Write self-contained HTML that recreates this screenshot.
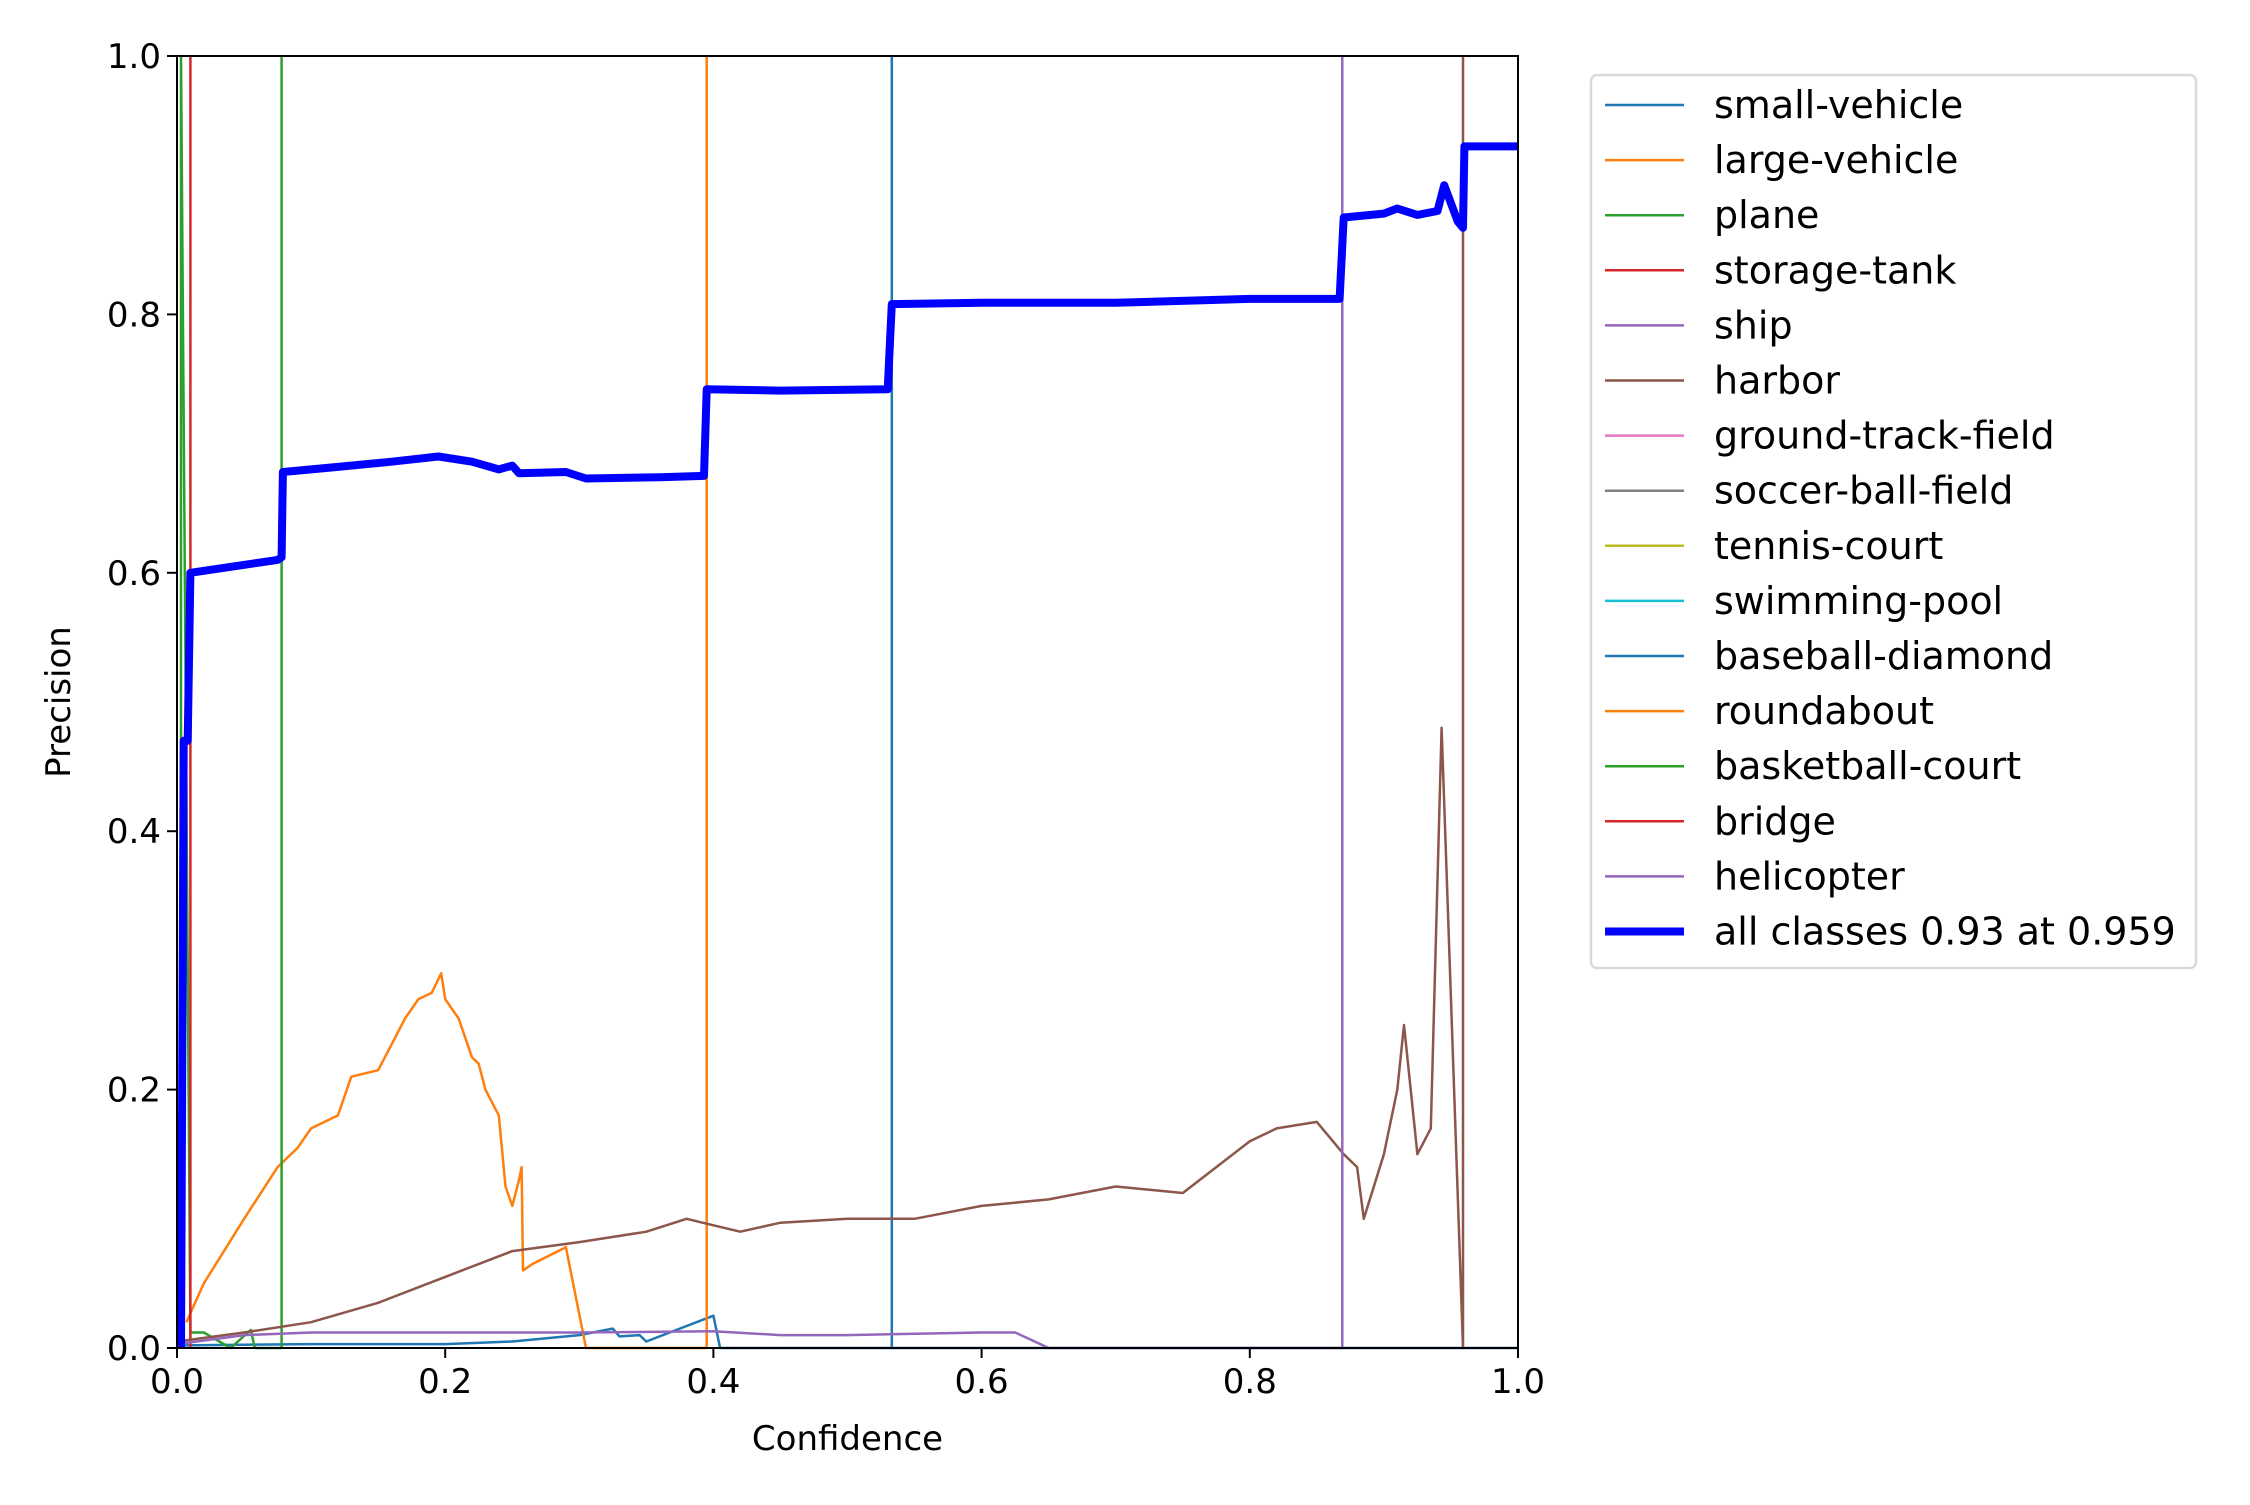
<!DOCTYPE html>
<html><head><meta charset="utf-8"><style>
html,body{margin:0;padding:0;background:#fff;}
svg text{font-family:"DejaVu Sans","Liberation Sans",sans-serif;}
</style></head><body>
<svg id="chart" width="2250" height="1500" viewBox="0 0 2250 1500" xmlns="http://www.w3.org/2000/svg">
<rect width="2250" height="1500" fill="#fff"/>
<g id="plot"></g>
<g id="axes"></g>
<g id="legend"></g>
</svg>
<script>
const xTicks=[0,0.2,0.4,0.6,0.8,1.0];
const yTicks=[0,0.2,0.4,0.6,0.8,1.0];
const tickLabels=["0.0","0.2","0.4","0.6","0.8","1.0"];
const names=["small-vehicle","large-vehicle","plane","storage-tank","ship","harbor","ground-track-field","soccer-ball-field","tennis-court","swimming-pool","baseball-diamond","roundabout","basketball-court","bridge","helicopter","all classes 0.93 at 0.959"];
const colors=["#1f77b4","#ff7f0e","#2ca02c","#d62728","#9467bd","#8c564b","#e377c2","#7f7f7f","#bcbd22","#17becf","#1f77b4","#ff7f0e","#2ca02c","#d62728","#9467bd","#0000ff"];
const smallVehX=[0.005,0.1,0.2,0.25,0.3,0.325,0.33,0.345,0.35,0.4,0.405,1.0];
const smallVehY=[0.002,0.003,0.003,0.005,0.01,0.015,0.009,0.01,0.005,0.025,0,0];
const largeVehX=[0.007,0.02,0.05,0.075,0.09,0.1,0.12,0.13,0.15,0.16,0.17,0.18,0.19,0.197,0.2,0.21,0.22,0.225,0.23,0.24,0.245,0.25,0.255,0.257,0.258,0.265,0.29,0.305,0.395,0.395];
const largeVehY=[0.02,0.05,0.1,0.14,0.155,0.17,0.18,0.21,0.215,0.235,0.255,0.27,0.275,0.29,0.27,0.255,0.225,0.22,0.2,0.18,0.125,0.11,0.13,0.14,0.06,0.065,0.078,0,0,1];
const planeX=[0.003,0.003,0.01,0.02,0.04,0.055,0.058,0.078,0.078];
const planeY=[0,1,0.012,0.012,0,0.014,0,0,1];
const tankX=[0.01,0.01];
const tankY=[0,1];
const harborX=[0,0.05,0.1,0.15,0.2,0.25,0.3,0.35,0.38,0.4,0.42,0.45,0.5,0.55,0.6,0.65,0.7,0.75,0.8,0.82,0.85,0.87,0.88,0.885,0.9,0.91,0.915,0.925,0.935,0.943,0.959,0.959];
const harborY=[0.005,0.012,0.02,0.035,0.055,0.075,0.082,0.09,0.1,0.095,0.09,0.097,0.1,0.1,0.11,0.115,0.125,0.12,0.16,0.17,0.175,0.15,0.14,0.1,0.15,0.2,0.25,0.15,0.17,0.48,0,1];
const heliX=[0,0.05,0.1,0.3,0.4,0.45,0.5,0.6,0.625,0.65,0.869,0.869];
const heliY=[0.003,0.01,0.012,0.012,0.013,0.01,0.01,0.012,0.012,0,0,1];
const baseballX=[0.533,0.533];
const baseballY=[0,1];
const allX=[0.003,0.005,0.008,0.01,0.075,0.078,0.079,0.12,0.16,0.195,0.22,0.24,0.25,0.255,0.29,0.305,0.36,0.393,0.395,0.45,0.53,0.533,0.6,0.7,0.8,0.867,0.87,0.9,0.91,0.925,0.94,0.945,0.955,0.959,0.96,1.0];
const allY=[0,0.47,0.47,0.6,0.61,0.612,0.678,0.682,0.686,0.69,0.686,0.68,0.683,0.677,0.678,0.673,0.674,0.675,0.742,0.741,0.742,0.808,0.809,0.809,0.812,0.812,0.875,0.878,0.882,0.877,0.88,0.9,0.872,0.867,0.93,0.93];

const L=177,R=1518,T=56,B=1348;
const sx=v=>L+v*(R-L), sy=v=>B-v*(B-T);
const NS="http://www.w3.org/2000/svg";
function mk(tag,parent){const e=document.createElementNS(NS,tag);parent.appendChild(e);return e;}
const plot=document.getElementById('plot');
function series(xs,ys,color,w,name){
  const p=mk('polyline',plot);
  
  
  p.setAttribute('points',xs.map((x,i)=>sx(x).toFixed(1)+','+sy(ys[i]).toFixed(1)).join(' '));
  p.setAttribute('fill','none');p.setAttribute('stroke',color);p.setAttribute('stroke-width',w);p.setAttribute('stroke-linejoin','round');
}
series(smallVehX,smallVehY,colors[0],2.5,'small-vehicle-line');
series(baseballX,baseballY,colors[10],2.5,'baseball-diamond-line');
series(largeVehX,largeVehY,colors[1],2.5,'large-vehicle-line');
series(planeX,planeY,colors[2],2.5,'plane-line');
series(tankX,tankY,colors[3],2.5,'storage-tank-line');
series(harborX,harborY,colors[5],2.5,'harbor-line');
series(heliX,heliY,colors[4],2.5,'helicopter-line');
series(allX,allY,colors[15],8,'all-classes-line');

const axes=document.getElementById('axes');
const frame=mk('rect',axes);


frame.setAttribute('x',L);frame.setAttribute('y',T);frame.setAttribute('width',R-L);frame.setAttribute('height',B-T);
frame.setAttribute('fill','none');frame.setAttribute('stroke','#000');frame.setAttribute('stroke-width',2);
xTicks.forEach((v,i)=>{
  const t=mk('line',axes);
  
  
  t.setAttribute('x1',sx(v));t.setAttribute('x2',sx(v));t.setAttribute('y1',B);t.setAttribute('y2',B+10);t.setAttribute('stroke','#000');t.setAttribute('stroke-width',2);
  const s=mk('text',axes);
  
  
  s.setAttribute('x',sx(v));s.setAttribute('y',B+45);s.setAttribute('text-anchor','middle');s.setAttribute('font-size','34');
  s.textContent=tickLabels[i];
});
yTicks.forEach((v,i)=>{
  const t=mk('line',axes);
  
  
  t.setAttribute('x1',L-10);t.setAttribute('x2',L);t.setAttribute('y1',sy(v));t.setAttribute('y2',sy(v));t.setAttribute('stroke','#000');t.setAttribute('stroke-width',2);
  const s=mk('text',axes);
  
  
  s.setAttribute('x',L-16);s.setAttribute('y',sy(v)+12);s.setAttribute('text-anchor','end');s.setAttribute('font-size','34');
  s.textContent=tickLabels[i];
});
const xt=mk('text',axes);


xt.setAttribute('x',(L+R)/2);xt.setAttribute('y',1450);xt.setAttribute('text-anchor','middle');xt.setAttribute('font-size','34');xt.textContent='Confidence';
const yt=mk('text',axes);


yt.setAttribute('transform','translate(70,'+((T+B)/2)+') rotate(-90)');yt.setAttribute('text-anchor','middle');yt.setAttribute('font-size','34');yt.textContent='Precision';

const lg=document.getElementById('legend');
const box=mk('rect',lg);


box.setAttribute('x',1591);box.setAttribute('y',75);box.setAttribute('width',605);box.setAttribute('height',893);box.setAttribute('rx',6);
box.setAttribute('fill','#fff');box.setAttribute('stroke','#d9d9d9');box.setAttribute('stroke-width',2.5);
names.forEach((n,i)=>{
  const y=105+i*55.1;
  const l=mk('line',lg);
  
  
  l.setAttribute('x1',1605);l.setAttribute('x2',1684);l.setAttribute('y1',y);l.setAttribute('y2',y);
  l.setAttribute('stroke',colors[i]);l.setAttribute('stroke-width',i==15?8:2.5);
  const s=mk('text',lg);
  
  
  s.setAttribute('x',1714);s.setAttribute('y',y+13);s.setAttribute('font-size','38');
  s.textContent=n;
});
</script>
</body></html>
